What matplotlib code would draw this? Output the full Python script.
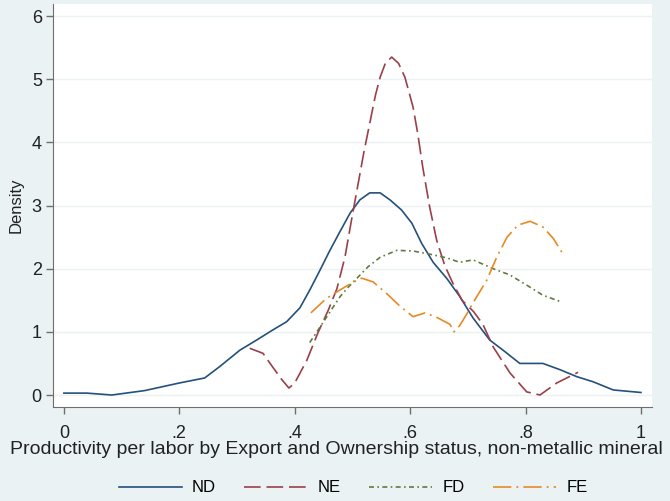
import matplotlib
matplotlib.use("Agg")
import matplotlib.pyplot as plt

plt.rcParams['font.family'] = ['Liberation Sans', 'DejaVu Sans']

# kernel density curves
nd_x = [0.0, 0.04, 0.083, 0.14, 0.2, 0.244, 0.27, 0.305, 0.334, 0.362,
        0.386, 0.409, 0.426, 0.444, 0.461, 0.478, 0.496, 0.513, 0.53, 0.548,
        0.565, 0.585, 0.603, 0.62, 0.64, 0.664, 0.686, 0.709, 0.738, 0.761,
        0.79, 0.83, 0.86, 0.889, 0.917, 0.952, 1.0]
nd_y = [0.03, 0.03, 0.0, 0.07, 0.19, 0.27, 0.45, 0.71, 0.87, 1.03,
        1.16, 1.38, 1.66, 1.98, 2.29, 2.58, 2.88, 3.09, 3.2, 3.2,
        3.09, 2.93, 2.72, 2.4, 2.1, 1.84, 1.56, 1.22, 0.87, 0.71,
        0.5, 0.5, 0.4, 0.29, 0.21, 0.08, 0.04]

ne_x = [0.322, 0.345, 0.362, 0.378, 0.39, 0.4, 0.421, 0.44, 0.458, 0.473,
        0.487, 0.499, 0.51, 0.52, 0.53, 0.54, 0.548, 0.557, 0.568, 0.58,
        0.591, 0.605, 0.613, 0.622, 0.634, 0.646, 0.66, 0.674, 0.69, 0.71,
        0.726, 0.744, 0.773, 0.802, 0.825, 0.854, 0.891]
ne_y = [0.74, 0.66, 0.44, 0.24, 0.11, 0.19, 0.55, 0.98, 1.34, 1.68,
        2.18, 2.8, 3.35, 3.85, 4.3, 4.75, 5.03, 5.25, 5.35, 5.25,
        5.03, 4.56, 4.15, 3.6, 2.97, 2.45, 2.05, 1.77, 1.5, 1.32,
        1.12, 0.76, 0.35, 0.05, 0.0, 0.19, 0.36]

fd_x = [0.426, 0.455, 0.478, 0.49, 0.508, 0.527, 0.548, 0.577, 0.605, 0.634,
        0.664, 0.686, 0.709, 0.744, 0.773, 0.802, 0.83, 0.863]
fd_y = [0.83, 1.23, 1.55, 1.68, 1.85, 2.03, 2.18, 2.29, 2.28, 2.23,
        2.17, 2.1, 2.14, 2.0, 1.9, 1.74, 1.58, 1.47]

fe_x = [0.428, 0.455, 0.478, 0.5, 0.516, 0.536, 0.56, 0.582, 0.605, 0.626,
        0.646, 0.669, 0.676, 0.686, 0.698, 0.709, 0.733, 0.75, 0.768, 0.787,
        0.808, 0.83, 0.848, 0.863]
fe_y = [1.3, 1.53, 1.66, 1.78, 1.85, 1.79, 1.6, 1.41, 1.24, 1.3,
        1.23, 1.12, 1.0, 1.1, 1.28, 1.46, 1.82, 2.18, 2.5, 2.69,
        2.75, 2.66, 2.48, 2.26]

x_ticks = [0, 0.2, 0.4, 0.6, 0.8, 1.0]
x_tick_labels = ['0', '.2', '.4', '.6', '.8', '1']
y_ticks = [0, 1, 2, 3, 4, 5, 6]

bg = '#eaf2f3'

fig = plt.figure(figsize=(6.7, 5.01), dpi=100, facecolor=bg)
ax = fig.add_axes([0.079, 0.1876, 0.894, 0.8044])
ax.set_facecolor('white')

for t in y_ticks:
    ax.axhline(t, color=bg, lw=1.0, zorder=0)

ax.plot(nd_x, nd_y, color='#24507c', lw=1.2, label='ND')
ax.plot(ne_x, ne_y, color='#9a4048', lw=1.2, dashes=(10, 3.5), label='NE')
ax.plot(fd_x, fd_y, color='#607c40', lw=1.2, dashes=(3, 2, 1, 2), label='FD')
ax.plot(fe_x, fe_y, color='#e58a25', lw=1.2, dashes=(11, 3, 1.2, 3), label='FE')

ax.set_xlim(-0.019, 1.019)
ax.set_ylim(-0.19, 6.19)
ax.set_xticks(x_ticks)
ax.set_xticklabels(x_tick_labels)
ax.set_yticks(y_ticks)

for side in ['top', 'right']:
    ax.spines[side].set_visible(False)
for side in ['left', 'bottom']:
    ax.spines[side].set_color('#6e6e6e')
ax.tick_params(direction='out', length=5, width=1, colors='#6e6e6e',
               labelcolor='#222222', labelsize=13, pad=3)
ax.tick_params(axis='x', pad=8)
ax.set_yticklabels([str(t) for t in y_ticks], rotation=0)

ax.set_xlabel('Productivity per labor by Export and Ownership status, non-metallic mineral',
              fontsize=14, color='#222222', labelpad=-1)
ax.xaxis.label.set_x(0.4725)
ax.set_ylabel('Density', fontsize=12, color='#222222', labelpad=6)

fig.legend(loc='center', bbox_to_anchor=(0.527, 0.026), ncol=4, frameon=False,
           fontsize=12, handlelength=3.8, handletextpad=0.6, columnspacing=1.7)

fig.savefig('out.png', dpi=100, facecolor=bg)
